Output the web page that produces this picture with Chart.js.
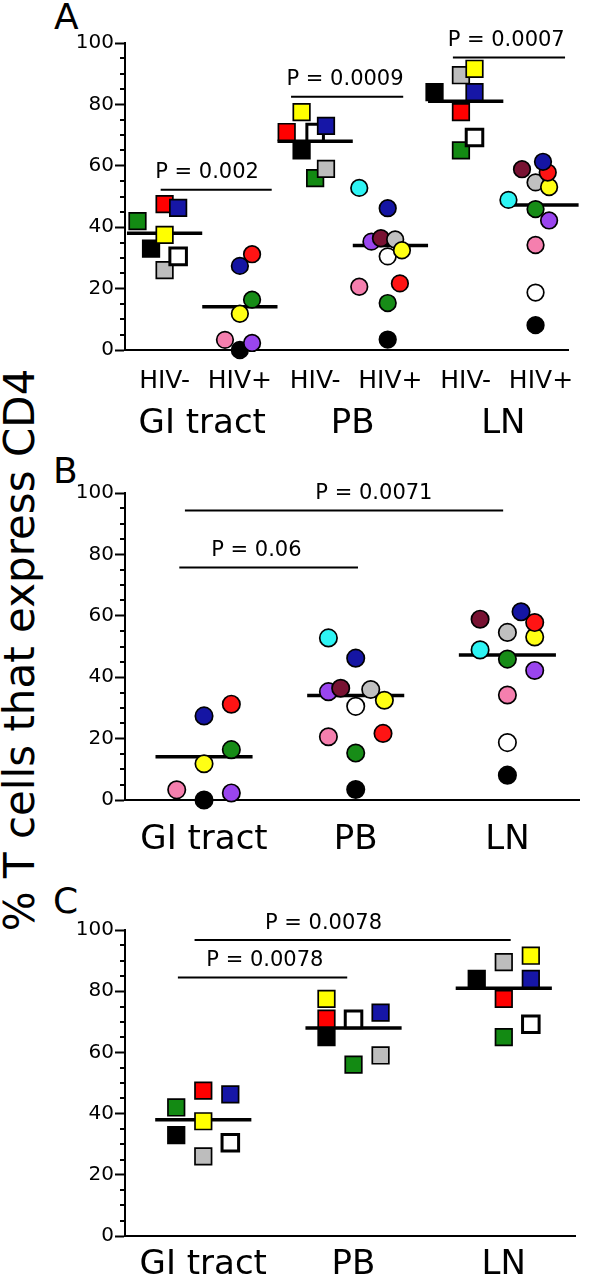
<!DOCTYPE html>
<html>
<head>
<meta charset="utf-8">
<script src="https://cdn.jsdelivr.net/npm/chart.js@4.4.1/dist/chart.umd.min.js"></script>
<style>
  body { margin: 0; width: 590px; height: 1280px; position: relative; background: #fff; overflow: hidden; font-family: "DejaVu Sans", sans-serif; }
  canvas { position: absolute; left: 0; }
  .letter { position: absolute; font-size: 36px; line-height: 36px; color: #000; }
  #ytitle { position: absolute; left: -280px; top: 629px; width: 600px; height: 42px; line-height: 42px;
            font-size: 42px; text-align: center; transform: rotate(-90deg); color: #000; }
</style>
</head>
<body>
<div id="ytitle">% T cells that express CD4</div>
<div class="letter" style="left:54px;top:-1px">A</div>
<div class="letter" style="left:53px;top:453px">B</div>
<div class="letter" style="left:53px;top:883px">C</div>
<canvas id="chartA" width="590" height="460" style="top:0"></canvas>
<canvas id="chartB" width="590" height="410" style="top:460px"></canvas>
<canvas id="chartC" width="590" height="410" style="top:870px"></canvas>
<script>
// categories
const subLabels = ['HIV-', 'HIV+', 'HIV-', 'HIV+', 'HIV-', 'HIV+'];
const tissues = ['GI tract', 'PB', 'LN'];

// HIV- donors, one colour each: green, black, gray, white, red, yellow, blue
const negColors = ['#138a13', '#000000', '#bdbdbd', '#ffffff', '#ff0000', '#ffff00', '#1616a6'];
const negGI = [42, 33, 26, 30.5, 47.5, 37.5, 46.3];
const negPB = [56, 65, 59, 70.8, 71, 77.5, 73];
const negLN = [65, 84, 89.5, 69.2, 77.5, 91.6, 84];
const negMedians = [38, 68, 81];

// HIV+ donors: black, cyan, pink, white, green, purple, maroon, gray, yellow, red, blue
const posColors = ['#000000', '#2ef4f4', '#f57fae', '#ffffff', '#178c17', '#9a45ee', '#781232', '#c0c0c0', '#ffff14', '#ff1414', '#1515a3'];
const posGI = [0, null, 3.3, null, 16.4, 2.3, null, null, 11.8, 31.2, 27.4];
const posPB = [3.4, 52.8, 20.6, 30.5, 15.3, 35.3, 36.4, 36, 32.5, 21.7, 46.2];
const posLN = [8.1, 48.9, 34.2, 18.7, 45.9, 42.2, 58.9, 54.6, 53.1, 57.8, 61.3];
const posMedians = [14.1, 34, 47.2];

// p values
const pA = ['P = 0.002', 'P = 0.0009', 'P = 0.0007'];
const pB = ['P = 0.0071', 'P = 0.06'];
const pC = ['P = 0.0078', 'P = 0.0078'];

// column slots of each dot inside its cloud (layout only)
const COL = 0.18;
const slotA = {
  negGI: [-2, -1, 0, 1, 0, 0, 1],
  negPB: [0, -1, 0.8, 0, -2.1, -1, 0.8],
  negLN: [-0.35, -2.3, -0.35, 0.65, -0.35, 0.65, 0.65],
  posGI: [0, 0, -1.1, 0, 0.9, 0.9, 0, 0, 0, 0.9, 0],
  posPB: [-0.2, -2.3, -2.3, -0.2, -0.2, -1.4, -0.7, 0.35, 0.85, 0.7, -0.2],
  posLN: [-0.4, -2.4, -0.4, -0.4, -0.4, 0.6, -1.4, -0.4, 0.6, 0.5, 0.15]
};
const slotB = {
  GI: [0, 0, -1, 0, 1, 1, 0, 0, 0, 1, 0],
  PB: [0, -1, -1, 0, 0, -1, -0.55, 0.55, 1.05, 1, 0],
  LN: [0, -1, 0, 0, 0, 1, -1, 0, 1, 1, 0.5]
};
const slotC = {
  GI: [-1, -1, 0, 1, 0, 0, 1],
  PB: [0, -1, 1, 0, -1, -1, 1],
  LN: [0, -1, 0, 1, 0, 1, 1]
};

const FONT = 'DejaVu Sans';

function dots(values, slots, colors, center, style, radius) {
  const data = [], bg = [], bw = [];
  values.forEach((v, i) => {
    if (v === null) return;
    data.push({ x: center + slots[i] * COL, y: v });
    bg.push(colors[i]);
    bw.push(style === 'rect' && colors[i] === '#ffffff' ? 3 : 1.7);
  });
  return {
    data, pointStyle: style, pointRadius: radius, pointHoverRadius: radius,
    pointBackgroundColor: bg, pointBorderColor: '#000', pointBorderWidth: bw,
    clip: false, order: 0
  };
}

function hline(x1, x2, y, width, order) {
  return {
    data: [{ x: x1, y }, { x: x2, y }], showLine: true, borderColor: '#000',
    borderWidth: width, pointRadius: 0, clip: false, order
  };
}

// minor y ticks and the p-value texts
const decor = {
  id: 'decor',
  afterDraw(chart, args, opts) {
    const { ctx, chartArea, scales } = chart;
    const y = scales.y, x = scales.x;
    ctx.save();
    ctx.strokeStyle = '#000';
    ctx.lineWidth = 2;
    for (let v = 5; v < 100; v += 5) {
      if (v % 20 === 0) continue;
      const py = Math.round(y.getPixelForValue(v));
      ctx.beginPath();
      ctx.moveTo(chartArea.left - 5, py);
      ctx.lineTo(chartArea.left, py);
      ctx.stroke();
    }
    ctx.fillStyle = '#000';
    ctx.font = '21px "' + FONT + '"';
    ctx.textAlign = 'center';
    ctx.textBaseline = 'middle';
    opts.notes.forEach(n => {
      ctx.fillText(n.text, x.getPixelForValue(n.tx), y.getPixelForValue(n.y) - 17);
    });
    ctx.restore();
  }
};

function yAxis() {
  return {
    min: 0, max: 100,
    afterFit: s => { s.width = 65; },
    grid: { drawOnChartArea: false, drawTicks: true, tickLength: 10, tickWidth: 2, tickColor: '#000' },
    border: { color: '#000', width: 2 },
    ticks: { stepSize: 20, padding: 1, color: '#000', font: { family: FONT, size: 20 } }
  };
}

function xAxis(min, max, positions, labels, size, pad, height, weight, showBorder) {
  return {
    type: 'linear', position: 'bottom', min, max, weight,
    grid: { display: false, drawTicks: false },
    border: { display: showBorder, color: '#000', width: 2 },
    afterBuildTicks: a => { a.ticks = positions.map(v => ({ value: v })); },
    afterFit: s => { s.height = height; },
    ticks: {
      autoSkip: false, maxRotation: 0, padding: pad, color: '#000',
      font: { family: FONT, size },
      callback: (v, i) => labels[i]
    }
  };
}

function baseOptions(padTop, scales, notes) {
  return {
    responsive: false, animation: false, events: [],
    layout: { padding: { left: 60, right: 5, top: padTop, bottom: 0 } },
    plugins: { legend: { display: false }, tooltip: { enabled: false }, decor: { notes } },
    scales
  };
}

// ---- Panel A: HIV- vs HIV+ in each tissue
const minA = 0.474, maxA = 6.37;
const notesA = [
  { from: 0.948, to: 2.423, y: 52.2, tx: 1.564, text: pA[0] },
  { from: 2.68, to: 4.17, y: 82.5, tx: 3.397, text: pA[1] },
  { from: 4.83, to: 6.32, y: 95.3, tx: 5.538, text: pA[2] }
];
const dsA = [
  dots(negGI, slotA.negGI, negColors, 1, 'rect', 11.7),
  dots(posGI, slotA.posGI, posColors, 2, 'circle', 8.3),
  dots(negPB, slotA.negPB, negColors, 3, 'rect', 11.7),
  dots(posPB, slotA.posPB, posColors, 4, 'circle', 8.3),
  dots(negLN, slotA.negLN, negColors, 5, 'rect', 11.7),
  dots(posLN, slotA.posLN, posColors, 6, 'circle', 8.3)
];
[negMedians, posMedians].forEach((meds, k) => {
  meds.forEach((m, i) => {
    const c = 2 * i + 1 + k;
    dsA.push(hline(c - 0.5, c + 0.5, m, 3.5, 1));
  });
});
notesA.forEach(n => dsA.push(hline(n.from, n.to, n.y, 2, 2)));

new Chart(document.getElementById('chartA'), {
  type: 'scatter',
  data: { datasets: dsA },
  options: baseOptions(43, {
    x: xAxis(minA, maxA, [1, 2, 3, 4, 5, 6], subLabels, 25, 16, 50, 0, true),
    x2: xAxis(minA, maxA, [1.5, 3.5, 5.5], tissues, 34, 4, 60, 1, false),
    y: yAxis()
  }, notesA),
  plugins: [decor]
});

// ---- Panel B: HIV+ only
const minB = 0.479, maxB = 3.476;
const notesB = [
  { from: 0.874, to: 2.972, y: 94.3, tx: 2.12, text: pB[0] },
  { from: 0.837, to: 2.015, y: 75.7, tx: 1.345, text: pB[1] }
];
const dsB = [
  dots(posGI, slotB.GI, posColors, 1, 'circle', 8.7),
  dots(posPB, slotB.PB, posColors, 2, 'circle', 8.7),
  dots(posLN, slotB.LN, posColors, 3, 'circle', 8.7)
];
posMedians.forEach((m, i) => dsB.push(hline(i + 1 - 0.32, i + 1 + 0.32, m, 3.5, 1)));
notesB.forEach(n => dsB.push(hline(n.from, n.to, n.y, 2, 2)));

new Chart(document.getElementById('chartB'), {
  type: 'scatter',
  data: { datasets: dsB },
  options: baseOptions(33, {
    x: xAxis(minB, maxB, [1, 2, 3], tissues, 34, 20, 70, 0, true),
    y: yAxis()
  }, notesB),
  plugins: [decor]
});

// ---- Panel C: HIV- only
const notesC = [
  { from: 0.942, to: 3.046, y: 96.7, tx: 1.80, text: pC[0] },
  { from: 0.831, to: 1.958, y: 84.5, tx: 1.41, text: pC[1] }
];
const dsC = [
  dots(negGI, slotC.GI, negColors, 1, 'rect', 11.7),
  dots(negPB, slotC.PB, negColors, 2, 'rect', 11.7),
  dots(negLN, slotC.LN, negColors, 3, 'rect', 11.7)
];
negMedians.forEach((m, i) => dsC.push(hline(i + 1 - 0.32, i + 1 + 0.32, m, 3.5, 1)));
notesC.forEach(n => dsC.push(hline(n.from, n.to, n.y, 2, 2)));

new Chart(document.getElementById('chartC'), {
  type: 'scatter',
  data: { datasets: dsC },
  options: baseOptions(60, {
    x: xAxis(minB, maxB, [1, 2, 3], tissues, 34, 9, 44, 0, true),
    y: yAxis()
  }, notesC),
  plugins: [decor]
});
</script>
</body>
</html>
